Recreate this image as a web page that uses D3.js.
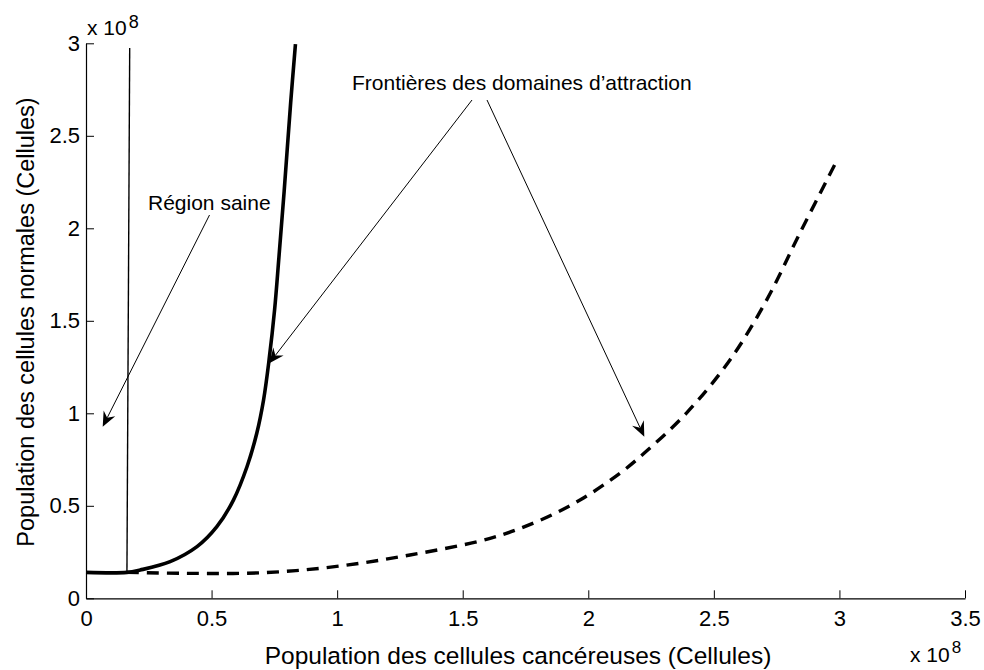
<!DOCTYPE html>
<html>
<head>
<meta charset="utf-8">
<script src="https://cdn.jsdelivr.net/npm/d3@7/dist/d3.min.js"></script>
<style>
  html, body { margin: 0; padding: 0; background: #fff; }
  svg { display: block; font-family: "Liberation Sans", Arial, Helvetica, sans-serif; }
</style>
</head>
<body>
<svg id="chart" width="984" height="670"></svg>
<script>
// Axis ticks (values in units of 1e8 cells)
const xTicks = [0, 0.5, 1, 1.5, 2, 2.5, 3, 3.5];
const xTickLabels = ["0", "0.5", "1", "1.5", "2", "2.5", "3", "3.5"];
const yTicks = [0, 0.5, 1, 1.5, 2, 2.5, 3];
const yTickLabels = ["0", "0.5", "1", "1.5", "2", "2.5", "3"];

// Separatrix through the saddle: thin, nearly vertical
const thinCancer = [0.163, 0.174];
const thinNormal = [0.14, 2.975];

// Solid boundary of the basin of attraction
const solidCancer = [0, 0.163, 0.216, 0.335, 0.442, 0.521, 0.587, 0.641, 0.680, 0.707, 0.729, 0.751, 0.768, 0.789, 0.815, 0.834];
const solidNormal = [0.14, 0.14, 0.153, 0.198, 0.279, 0.387, 0.531, 0.711, 0.892, 1.072, 1.289, 1.56, 1.84, 2.2, 2.68, 2.995];

// Dashed boundary of the basin of attraction
const dashCancer = [0.163, 0.4, 0.7, 0.99, 1.29, 1.609, 1.795, 1.967, 2.126, 2.222, 2.39, 2.564, 2.71, 2.842, 2.995];
const dashNormal = [0.14, 0.135, 0.138, 0.171, 0.234, 0.324, 0.414, 0.531, 0.676, 0.784, 1.0, 1.288, 1.612, 1.973, 2.38];

const svg = d3.select("#chart");
const x = d3.scaleLinear().domain([0, 3.5]).range([86, 965]);
const y = d3.scaleLinear().domain([0, 3]).range([598.3, 43.3]);

// Axes: only left and bottom, ticks pointing inward
const gx = svg.append("g").attr("transform", `translate(0,${y(0)})`)
  .call(d3.axisBottom(x).tickValues(xTicks).tickFormat((d, i) => xTickLabels[i])
    .tickSizeInner(-8).tickSizeOuter(0).tickPadding(12));
const gy = svg.append("g").attr("transform", `translate(${x(0)},0)`)
  .call(d3.axisLeft(y).tickValues(yTicks).tickFormat((d, i) => yTickLabels[i])
    .tickSizeInner(-8).tickSizeOuter(0).tickPadding(6));
[gx, gy].forEach(g => {
  g.select(".domain").attr("stroke", "#000").attr("stroke-width", 1.2);
  g.selectAll(".tick line").attr("stroke", "#000").attr("stroke-width", 1);
  g.selectAll(".tick text").attr("fill", "#000").style("font-size", "22px")
    .style("font-family", "'Liberation Sans', Arial, sans-serif");
});

// Scale multipliers
function multiplier(px, py, supSize, supDy) {
  const t = svg.append("text").attr("x", px).attr("y", py)
    .style("font-size", "21px").attr("fill", "#000");
  t.append("tspan").text("x 10");
  t.append("tspan").attr("dy", supDy).attr("dx", 2).style("font-size", supSize + "px").text("8");
}
multiplier(87, 35, 18, -7);
multiplier(910, 662, 17, -9);

// Axis titles
svg.append("text").attr("x", 518).attr("y", 664).attr("text-anchor", "middle")
  .style("font-size", "24.5px").text("Population des cellules cancéreuses (Cellules)");
svg.append("text").attr("transform", "translate(34,322) rotate(-90)").attr("text-anchor", "middle")
  .style("font-size", "23.5px").text("Population des cellules normales (Cellules)");

// Curves
const line = d3.line().x(d => x(d[0])).y(d => y(d[1]));
const zip = (a, b) => a.map((v, i) => [v, b[i]]);

svg.append("path").datum(zip(thinCancer, thinNormal))
  .attr("d", line).attr("fill", "none").attr("stroke", "#000").attr("stroke-width", 1.4);
svg.append("path").datum(zip(solidCancer, solidNormal))
  .attr("d", line.curve(d3.curveCatmullRom.alpha(0.5))).attr("fill", "none")
  .attr("stroke", "#000").attr("stroke-width", 3.6).attr("stroke-linejoin", "round");
svg.append("path").datum(zip(dashCancer, dashNormal))
  .attr("d", line.curve(d3.curveCatmullRom.alpha(0.5))).attr("fill", "none")
  .attr("stroke", "#000").attr("stroke-width", 3.4).attr("stroke-dasharray", "12,8");

// Annotations with arrows
function arrow(x1, y1, x2, y2) {
  const dx = x2 - x1, dy = y2 - y1, L = Math.hypot(dx, dy);
  const ux = dx / L, uy = dy / L, px = -uy, py = ux;
  const head = 15, half = 6.5, notch = 10;
  svg.append("line").attr("x1", x1).attr("y1", y1)
    .attr("x2", x2 - ux * notch).attr("y2", y2 - uy * notch)
    .attr("stroke", "#000").attr("stroke-width", 1);
  const pts = [
    [x2, y2],
    [x2 - ux * head + px * half, y2 - uy * head + py * half],
    [x2 - ux * notch, y2 - uy * notch],
    [x2 - ux * head - px * half, y2 - uy * head - py * half]
  ];
  svg.append("path").attr("d", "M" + pts.map(p => p.join(",")).join("L") + "Z").attr("fill", "#000");
}

svg.append("text").attr("x", 148).attr("y", 210).style("font-size", "21px").text("Région saine");
arrow(209.5, 215, 102.7, 426.7);

svg.append("text").attr("x", 352).attr("y", 90).style("font-size", "21px")
  .text("Frontières des domaines d’attraction");
arrow(472, 100, 269.3, 363.3);
arrow(487, 100, 644.3, 436.7);
</script>
</body>
</html>
